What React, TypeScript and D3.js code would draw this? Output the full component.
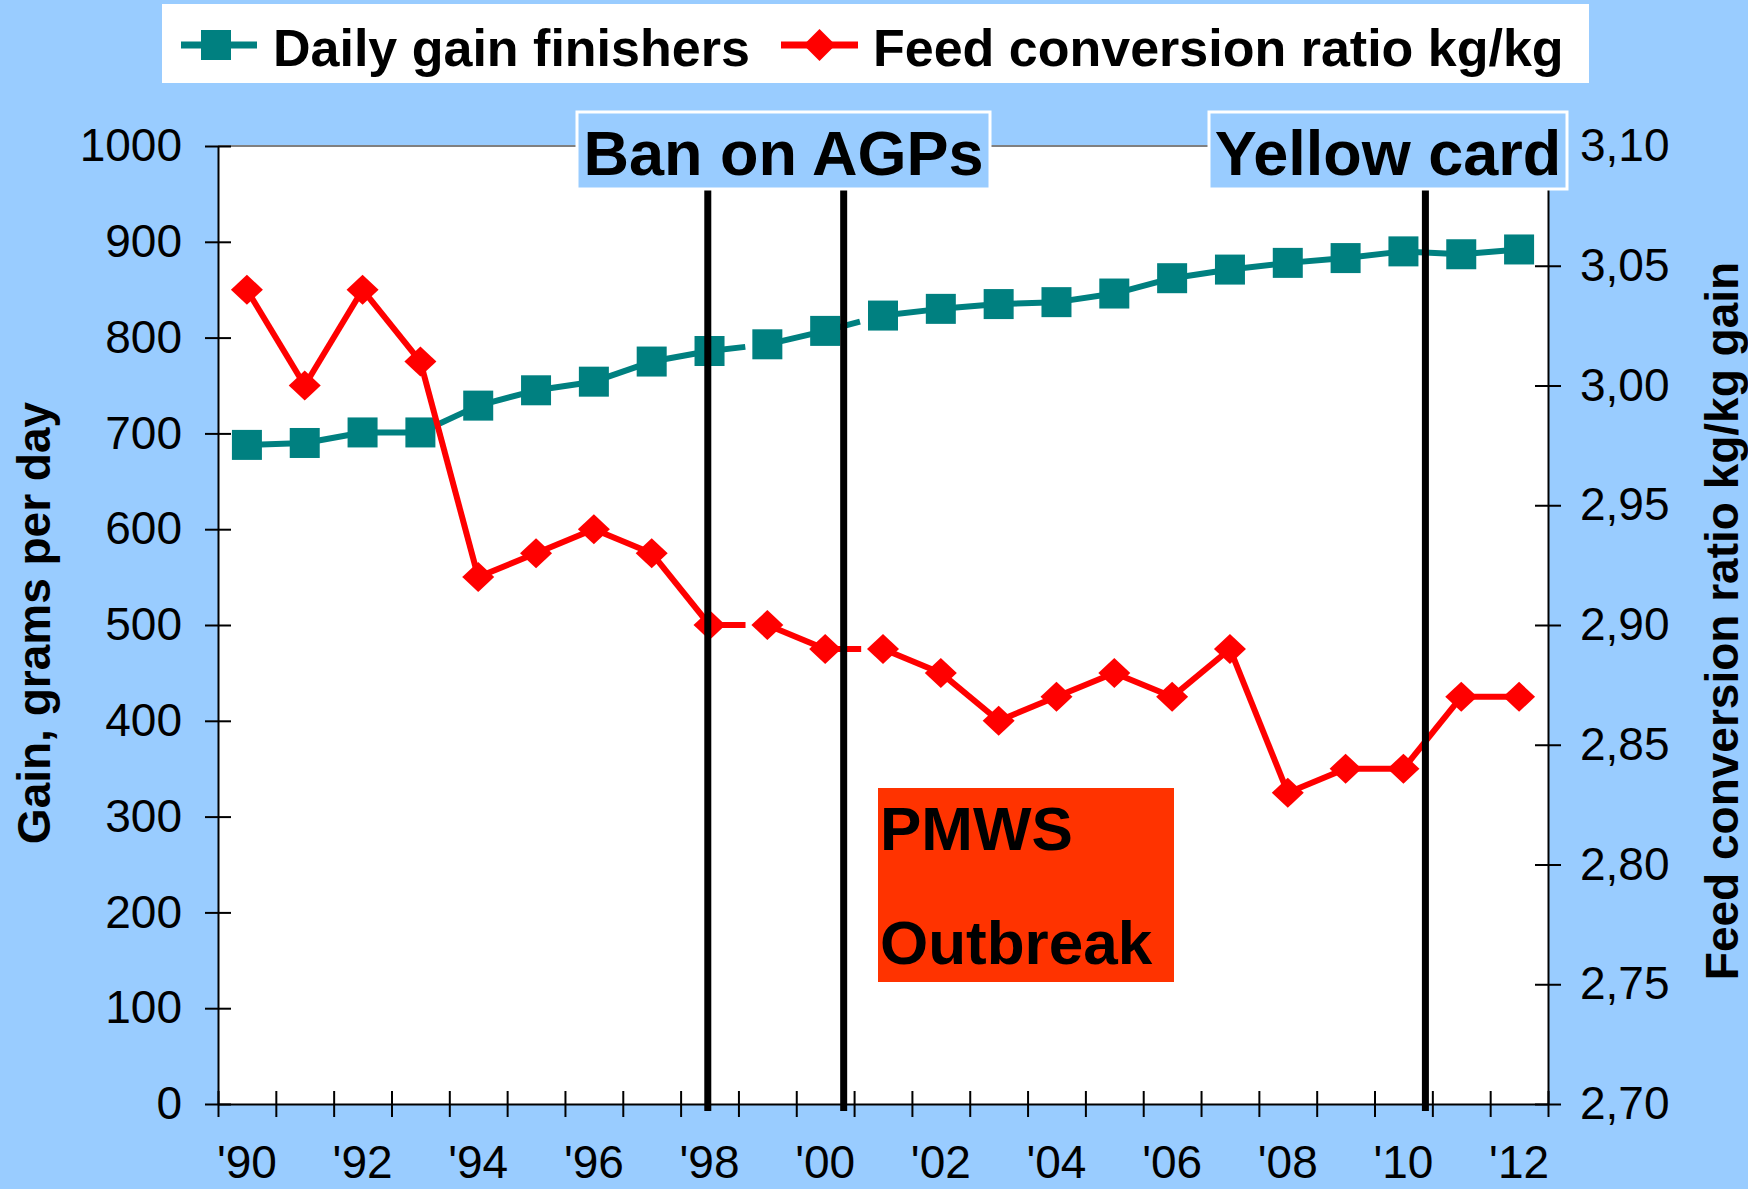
import React, { useRef, useEffect } from 'react';
import * as d3 from 'd3';

// years on the x axis (one band each)
const years = [1990, 1991, 1992, 1993, 1994, 1995, 1996, 1997, 1998, 1999, 2000, 2001,
  2002, 2003, 2004, 2005, 2006, 2007, 2008, 2009, 2010, 2011, 2012];
// daily gain finishers, g/day (left axis)
const dailyGain = [688, 690, 701, 701, 729, 745, 754, 775, 786, 793, 807, 823,
  830, 835, 837, 846, 862, 871, 878, 883, 890, 887, 892];
// feed conversion ratio kg/kg (right axis)
const feedConversion = [3.04, 3.00, 3.04, 3.01, 2.92, 2.93, 2.94, 2.93, 2.90, 2.90, 2.89, 2.89,
  2.88, 2.86, 2.87, 2.88, 2.87, 2.89, 2.83, 2.84, 2.84, 2.87, 2.87];
// labelled years
const labelYears = [1990, 1992, 1994, 1996, 1998, 2000, 2002, 2004, 2006, 2008, 2010, 2012];
const labelTexts = ["'90", "'92", "'94", "'96", "'98", "'00", "'02", "'04", "'06", "'08", "'10", "'12"];
const gainTicks = [0, 100, 200, 300, 400, 500, 600, 700, 800, 900, 1000];
const fcrTicks = [2.70, 2.75, 2.80, 2.85, 2.90, 2.95, 3.00, 3.05, 3.10];
// segments starting at these years are drawn dashed
const dashedFrom = [1998, 2000];
// vertical event markers (fractional year position)
const eventYears = [1997.97, 2000.32, 2010.38];

const W = 1748, H = 1189;
const M = { left: 218, right: 1548, top: 146, bottom: 1104 };
const BG = '#99CCFF';
const TEAL = '#008080';
const RED = '#FF0000';
const FONT = '"Liberation Sans", Arial, Helvetica, sans-serif';
const diamond = 'M0,-15L16,0L0,15L-16,0Z';

const App = () => {
  const svgRef = useRef<SVGSVGElement>(null);

  useEffect(() => {
    const svg = d3.select(svgRef.current);
    svg.selectAll('*').remove();

    const x = d3.scaleBand<number>().domain(years).range([M.left, M.right]);
    const xc = (yr: number) => (x(yr) as number) + x.bandwidth() / 2;
    const xYear = d3.scaleLinear()
      .domain([years[0] - 0.5, years[years.length - 1] + 0.5])
      .range([M.left, M.right]);
    const yGain = d3.scaleLinear().domain([0, 1000]).range([M.bottom, M.top]);
    const yFcr = d3.scaleLinear().domain([2.7, 3.1]).range([M.bottom, M.top]);
    const fmtComma = d3.formatLocale({ decimal: ',', thousands: '.', grouping: [3], currency: ['', ''] }).format('.2f');

    // background + plot area
    svg.append('rect').attr('width', W).attr('height', H).attr('fill', BG);
    svg.append('rect')
      .attr('x', M.left).attr('y', M.top)
      .attr('width', M.right - M.left).attr('height', M.bottom - M.top)
      .attr('fill', '#fff');
    svg.append('line')
      .attr('x1', M.left).attr('x2', M.right).attr('y1', M.top).attr('y2', M.top)
      .attr('stroke', '#808080').attr('stroke-width', 2);

    // left axis
    const gL = svg.append('g')
      .attr('transform', `translate(${M.left},0)`)
      .call(d3.axisLeft(yGain).tickValues(gainTicks).tickFormat(d3.format('d'))
        .tickSizeInner(13).tickSizeOuter(0).tickPadding(23));
    gL.selectAll('.tick line').attr('x1', 13);

    // right axis
    const gR = svg.append('g')
      .attr('transform', `translate(${M.right},0)`)
      .call(d3.axisRight(yFcr).tickValues(fcrTicks).tickFormat((d) => fmtComma(d as number))
        .tickSizeInner(13).tickSizeOuter(0).tickPadding(19));
    gR.selectAll('.tick line').attr('x1', -13);

    // bottom axis: tick marks at band edges
    const edges = years.map((yr) => yr - 0.5).concat([years[years.length - 1] + 0.5]);
    const gB = svg.append('g')
      .attr('transform', `translate(0,${M.bottom})`)
      .call(d3.axisBottom(xYear).tickValues(edges).tickFormat(() => '').tickSizeInner(13).tickSizeOuter(0));
    gB.selectAll('.tick line').attr('y1', -13);

    // bottom labels
    const gX = svg.append('g')
      .attr('transform', `translate(0,${M.bottom})`)
      .call(d3.axisBottom(x).tickValues(labelYears)
        .tickFormat((d) => labelTexts[labelYears.indexOf(d as number)])
        .tickSize(0).tickPadding(41));
    gX.select('.domain').remove();

    [gL, gR, gB, gX].forEach((g) => {
      g.attr('font-size', 46).attr('font-family', FONT);
      g.selectAll('text').attr('fill', '#000');
      g.selectAll('line').attr('stroke', '#000').attr('stroke-width', 2);
      g.selectAll('.domain').attr('stroke', '#000').attr('stroke-width', 2);
    });

    // series lines (segment by segment, some dashed)
    const drawSeries = (vals: number[], y: d3.ScaleLinear<number, number>, color: string) => {
      const pts = years.map((yr, i) => [xc(yr), y(vals[i]), yr] as [number, number, number]);
      svg.append('g').selectAll('line')
        .data(d3.pairs(pts))
        .join('line')
        .attr('x1', (d) => d[0][0]).attr('y1', (d) => d[0][1])
        .attr('x2', (d) => d[1][0]).attr('y2', (d) => d[1][1])
        .attr('stroke', color).attr('stroke-width', 6)
        .attr('stroke-dasharray', (d) => (dashedFrom.includes(d[0][2]) ? '36 40' : null));
      return pts;
    };

    const gainPts = drawSeries(dailyGain, yGain, TEAL);
    svg.append('g').selectAll('rect')
      .data(gainPts)
      .join('rect')
      .attr('x', (d) => d[0] - 15).attr('y', (d) => d[1] - 15)
      .attr('width', 30).attr('height', 30)
      .attr('fill', TEAL);

    const fcrPts = drawSeries(feedConversion, yFcr, RED);
    svg.append('g').selectAll('path')
      .data(fcrPts)
      .join('path')
      .attr('d', diamond)
      .attr('transform', (d) => `translate(${d[0]},${d[1]})`)
      .attr('fill', RED);

    // vertical event lines
    svg.append('g').selectAll('line')
      .data(eventYears)
      .join('line')
      .attr('x1', (d) => xYear(d)).attr('x2', (d) => xYear(d))
      .attr('y1', 189).attr('y2', 1111)
      .attr('stroke', '#000').attr('stroke-width', 7);

    // annotation boxes
    const boxes = [
      { text: 'Ban on AGPs', x: 577, w: 413 },
      { text: 'Yellow card', x: 1209, w: 358 },
    ];
    boxes.forEach((b) => {
      svg.append('rect')
        .attr('x', b.x).attr('y', 112).attr('width', b.w).attr('height', 77)
        .attr('fill', BG).attr('stroke', '#fff').attr('stroke-width', 3);
      svg.append('text')
        .attr('x', b.x + b.w / 2).attr('y', 175)
        .attr('text-anchor', 'middle')
        .attr('font-family', FONT).attr('font-weight', 'bold').attr('font-size', 63)
        .text(b.text);
    });

    // PMWS outbreak box
    svg.append('rect')
      .attr('x', 878).attr('y', 788).attr('width', 296).attr('height', 194)
      .attr('fill', '#FF3300');
    [['PMWS', 850], ['Outbreak', 964]].forEach(([t, yy]) => {
      svg.append('text')
        .attr('x', 880).attr('y', yy as number)
        .attr('font-family', FONT).attr('font-weight', 'bold').attr('font-size', 62)
        .text(t as string);
    });

    // legend
    svg.append('rect').attr('x', 162).attr('y', 4).attr('width', 1427).attr('height', 79).attr('fill', '#fff');
    svg.append('line').attr('x1', 181).attr('x2', 257).attr('y1', 45).attr('y2', 45)
      .attr('stroke', TEAL).attr('stroke-width', 7);
    svg.append('rect').attr('x', 201).attr('y', 30).attr('width', 30).attr('height', 30).attr('fill', TEAL);
    svg.append('text').attr('x', 273).attr('y', 66)
      .attr('font-family', FONT).attr('font-weight', 'bold').attr('font-size', 52)
      .text('Daily gain finishers');
    svg.append('line').attr('x1', 781).attr('x2', 858).attr('y1', 45).attr('y2', 45)
      .attr('stroke', RED).attr('stroke-width', 7);
    svg.append('path').attr('d', 'M0,-16L16,0L0,16L-16,0Z').attr('transform', 'translate(819.5,45)').attr('fill', RED);
    svg.append('text').attr('x', 873).attr('y', 66)
      .attr('font-family', FONT).attr('font-weight', 'bold').attr('font-size', 52)
      .text('Feed conversion ratio kg/kg');

    // axis titles
    svg.append('text')
      .attr('transform', 'translate(50,623) rotate(-90)')
      .attr('text-anchor', 'middle')
      .attr('font-family', FONT).attr('font-weight', 'bold').attr('font-size', 46)
      .text('Gain, grams per day');
    svg.append('text')
      .attr('transform', 'translate(1738,621) rotate(-90)')
      .attr('text-anchor', 'middle')
      .attr('font-family', FONT).attr('font-weight', 'bold').attr('font-size', 46)
      .text('Feed conversion ratio kg/kg gain');
  }, []);

  return (
    <>
      <style>{'body{margin:0}'}</style>
      <svg ref={svgRef} width={W} height={H} style={{ display: 'block' }} />
    </>
  );
};

export default App;
